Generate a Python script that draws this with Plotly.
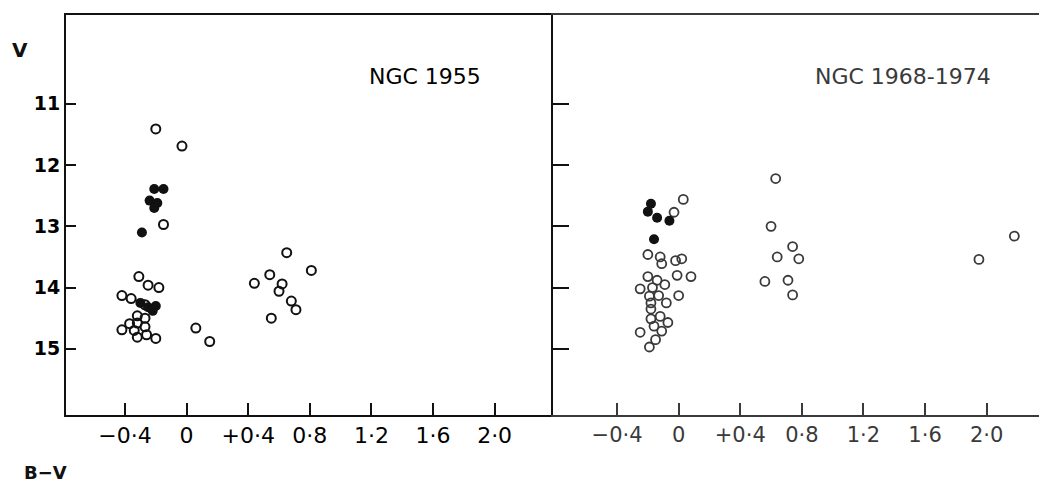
import plotly.graph_objects as go

# ---------------- data ----------------
# NGC 1955 (left panel)
l_open_bv = [-0.20, -0.03, -0.15, -0.31, -0.25, -0.18, -0.42, -0.36, -0.27, -0.32, -0.27,
             -0.37, -0.32, -0.27, -0.42, -0.34, -0.32, -0.26, -0.20, 0.06, 0.15,
             0.65, 0.81, 0.54, 0.44, 0.62, 0.60, 0.68, 0.71, 0.55]
l_open_v = [11.41, 11.69, 12.97, 13.82, 13.96, 14.00, 14.13, 14.18, 14.28, 14.46, 14.50,
            14.59, 14.58, 14.64, 14.69, 14.70, 14.81, 14.77, 14.83, 14.66, 14.88,
            13.43, 13.72, 13.79, 13.93, 13.94, 14.06, 14.22, 14.36, 14.50]
l_fill_bv = [-0.21, -0.15, -0.24, -0.19, -0.21, -0.29, -0.30, -0.25, -0.20, -0.22]
l_fill_v = [12.39, 12.39, 12.58, 12.62, 12.70, 13.10, 14.25, 14.32, 14.30, 14.38]

# NGC 1968-1974 (right panel)
r_open_bv = [0.03, -0.03, -0.20, -0.12, -0.11, -0.02, 0.02, -0.20, -0.14, -0.01, 0.08,
             -0.09, -0.25, -0.17, -0.19, -0.13, 0.00, -0.08, -0.18, -0.18, -0.18, -0.12,
             -0.07, -0.16, -0.11, -0.25, -0.15, -0.19,
             0.63, 0.60, 0.74, 0.64, 0.78, 0.56, 0.71, 0.74, 2.18, 1.95]
r_open_v = [12.56, 12.77, 13.46, 13.50, 13.61, 13.56, 13.53, 13.82, 13.88, 13.80, 13.82,
            13.95, 14.02, 14.00, 14.14, 14.13, 14.13, 14.25, 14.25, 14.35, 14.51, 14.47,
            14.57, 14.63, 14.71, 14.73, 14.85, 14.97,
            12.22, 13.00, 13.33, 13.50, 13.53, 13.90, 13.88, 14.12, 13.16, 13.54]
r_fill_bv = [-0.18, -0.20, -0.14, -0.06, -0.16]
r_fill_v = [12.63, 12.76, 12.86, 12.91, 13.21]

x_tickvals = [-0.4, 0, 0.4, 0.8, 1.2, 1.6, 2.0]
x_ticktext = ["\u22120\u00b74", "0", "+0\u00b74", "0\u00b78", "1\u00b72", "1\u00b76", "2\u00b70"]
y_tickvals = [11, 12, 13, 14, 15]
y_ticktext = ["11", "12", "13", "14", "15"]
titles = ["NGC 1955", "NGC 1968-1974"]

# ---------------- figure ----------------
LEFT_INK = "#111111"
RIGHT_INK = "#3a3a3a"
FONT = "DejaVu Sans"

fig = go.Figure()
fig.add_trace(go.Scatter(x=l_open_bv, y=l_open_v, mode="markers", xaxis="x", yaxis="y",
                         marker=dict(symbol="circle-open", size=9, color=LEFT_INK,
                                     line=dict(width=2, color=LEFT_INK)), showlegend=False))
fig.add_trace(go.Scatter(x=l_fill_bv, y=l_fill_v, mode="markers", xaxis="x", yaxis="y",
                         marker=dict(symbol="circle", size=10, color=LEFT_INK), showlegend=False))
fig.add_trace(go.Scatter(x=r_open_bv, y=r_open_v, mode="markers", xaxis="x2", yaxis="y2",
                         marker=dict(symbol="circle-open", size=9, color=RIGHT_INK,
                                     line=dict(width=1.8, color=RIGHT_INK)), showlegend=False))
fig.add_trace(go.Scatter(x=r_fill_bv, y=r_fill_v, mode="markers", xaxis="x2", yaxis="y2",
                         marker=dict(symbol="circle", size=10, color="#111111"), showlegend=False))

split = (553 - 66) / (1039 - 66)
yr = [16.08, 9.55]

common_x = dict(tickvals=x_tickvals, ticktext=x_ticktext, showgrid=False, zeroline=False,
                ticks="inside", ticklen=12, tickwidth=1.5, showline=True, automargin=False)

fig.update_layout(
    width=1039, height=485,
    margin=dict(l=66, r=0, t=15, b=70),
    paper_bgcolor="white", plot_bgcolor="white",
    xaxis=dict(domain=[0, split], range=[-0.783, 2.379], anchor="y", mirror=True,
               linecolor=LEFT_INK, linewidth=2, tickcolor=LEFT_INK,
               tickfont=dict(family=FONT, size=22, color="#000000"), **common_x),
    yaxis=dict(domain=[0, 1], range=yr, anchor="x", tickvals=y_tickvals, ticktext=y_ticktext,
               showgrid=False, zeroline=False, ticks="inside", ticklen=10, tickwidth=2,
               showline=True, mirror=False, linecolor=LEFT_INK, linewidth=2, tickcolor=LEFT_INK,
               automargin=False,
               tickfont=dict(family=FONT, size=19, color="#000000", weight="bold")),
    xaxis2=dict(domain=[split, 1], range=[-0.816, 2.34], anchor="y2", mirror=True,
                linecolor=RIGHT_INK, linewidth=1.5, tickcolor=RIGHT_INK,
                tickfont=dict(family=FONT, size=21, color=RIGHT_INK), **common_x),
    yaxis2=dict(domain=[0, 1], range=yr, anchor="x2", tickvals=y_tickvals, showticklabels=False,
                showgrid=False, zeroline=False, ticks="inside", ticklen=16, tickwidth=2,
                showline=True, linecolor=LEFT_INK, linewidth=2, tickcolor=LEFT_INK,
                automargin=False),
    annotations=[
        dict(text=titles[0], x=1.545, y=10.56, xref="x", yref="y", showarrow=False,
             xanchor="center", yanchor="middle",
             font=dict(family=FONT, size=22, color="#000000")),
        dict(text=titles[1], x=1.46, y=10.56, xref="x2", yref="y2", showarrow=False,
             xanchor="center", yanchor="middle",
             font=dict(family=FONT, size=22, color=RIGHT_INK)),
        dict(text="<b>V</b>", x=-0.047, y=0.9125, xref="paper", yref="paper", showarrow=False,
             xanchor="center", yanchor="middle",
             font=dict(family=FONT, size=20, color=LEFT_INK)),
        dict(text="<b>B\u2212V</b>", x=-0.021, y=-0.1425, xref="paper", yref="paper",
             showarrow=False, xanchor="center", yanchor="middle",
             font=dict(family=FONT, size=18, color=LEFT_INK)),
    ],
)

fig.write_html("out.html", config={"displayModeBar": False},
               post_script="document.body.style.margin='0px';")
